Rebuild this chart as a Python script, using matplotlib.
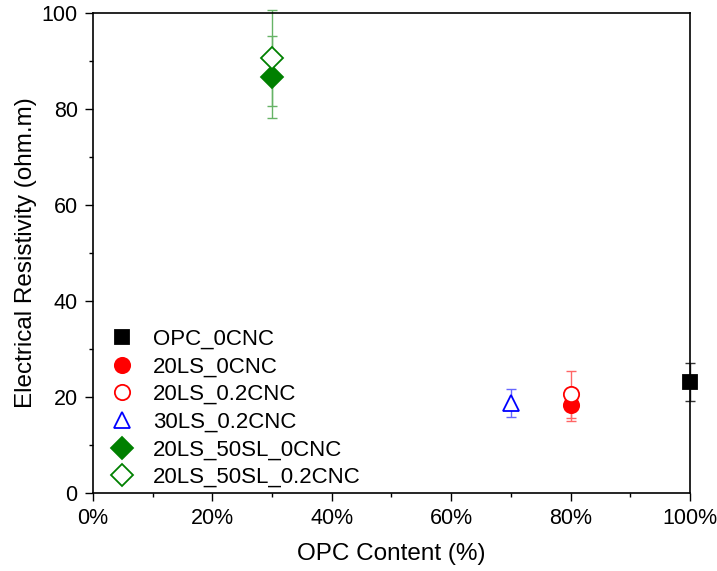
import matplotlib
matplotlib.use("Agg")
import matplotlib.pyplot as plt
from matplotlib.ticker import MultipleLocator, FuncFormatter

plt.rcParams["font.family"] = ["Liberation Sans", "DejaVu Sans"]

# Data
labels = ["OPC_0CNC", "20LS_0CNC", "20LS_0.2CNC", "30LS_0.2CNC",
          "20LS_50SL_0CNC", "20LS_50SL_0.2CNC"]
opc_content = [100, 80, 80, 70, 30, 30]
resistivity = [23.1, 18.3, 20.6, 18.75, 86.7, 90.6]
errors = [3.9, 3.3, 4.9, 2.9, 8.6, 10.0]

colors = ["black", "red", "red", "blue", "green", "green"]
err_colors = ["#333333", "#ff6666", "#ff6666", "#6666ff", "#66b366", "#66b366"]
markers = ["s", "o", "o", "^", "D", "D"]
filled = [True, True, False, False, True, False]
sizes = [10.5, 11, 11, 11, 11, 11]

fig = plt.figure(figsize=(7.17, 5.71), dpi=100)
ax = fig.add_axes([0.1297, 0.1366, 0.9623 - 0.1297, 0.977 - 0.1366])

for i in range(len(labels)):
    eb = ax.errorbar(opc_content[i], resistivity[i], yerr=errors[i],
                     fmt="none", ecolor=err_colors[i], elinewidth=1,
                     capsize=3.5, capthick=1, zorder=2)
    for art in eb.get_children():
        art.set_clip_on(False)
    ax.plot(opc_content[i], resistivity[i], linestyle="none",
            marker=markers[i], markersize=sizes[i],
            markerfacecolor=colors[i] if filled[i] else "white",
            markeredgecolor=colors[i], markeredgewidth=1.3,
            label=labels[i], zorder=3, clip_on=False)

ax.set_xlim(0, 100)
ax.set_ylim(0, 100)
ax.xaxis.set_major_locator(MultipleLocator(20))
ax.xaxis.set_minor_locator(MultipleLocator(10))
ax.yaxis.set_major_locator(MultipleLocator(20))
ax.yaxis.set_minor_locator(MultipleLocator(10))
ax.xaxis.set_major_formatter(FuncFormatter(lambda v, p: f"{v:.0f}%"))

ax.tick_params(which="major", direction="out", length=6, width=1,
               labelsize=15.5, top=False, right=False, pad=5)
ax.tick_params(which="minor", direction="out", length=3, width=1,
               top=False, right=False)
for s in ax.spines.values():
    s.set_linewidth(1.2)

ax.set_xlabel("OPC Content (%)", fontsize=17.5, labelpad=10)
ax.set_ylabel("Electrical Resistivity (ohm.m)", fontsize=17.5, labelpad=3)

ax.legend(loc="lower left", frameon=False, fontsize=16,
          bbox_to_anchor=(0.0, -0.008), handletextpad=0.5, handlelength=1.8,
          labelspacing=0.3, borderaxespad=0.0)

fig.savefig("out.png", dpi=100)
